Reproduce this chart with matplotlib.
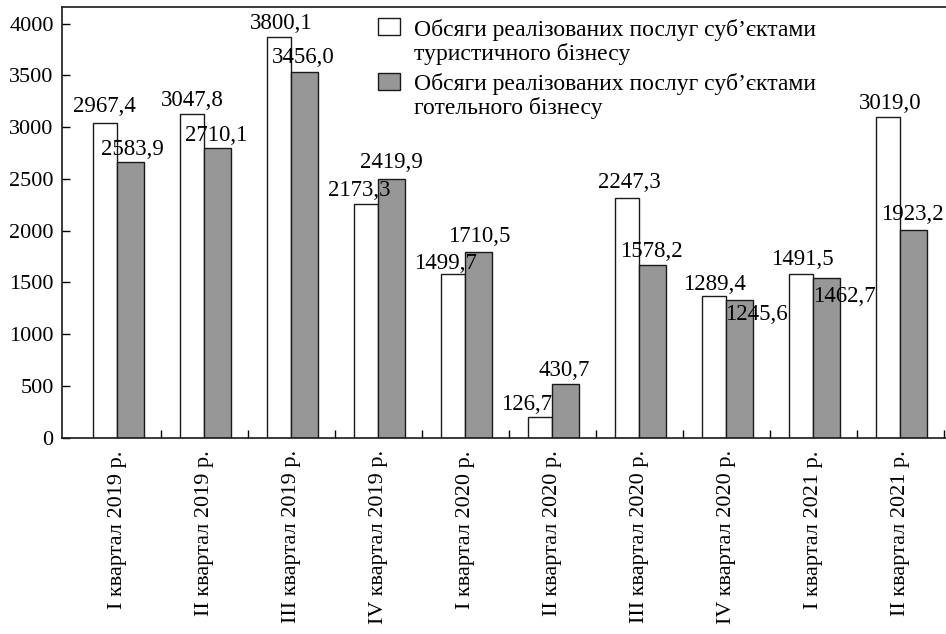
import matplotlib
matplotlib.use("Agg")
import matplotlib.pyplot as plt
from matplotlib.patches import Rectangle
import numpy as np

plt.rcParams['font.family'] = ['Liberation Serif', 'DejaVu Serif']

# quarters on the x axis
quarters = [
    "I квартал 2019 р.", "II квартал 2019 р.", "III квартал 2019 р.",
    "IV квартал 2019 р.", "I квартал 2020 р.", "II квартал 2020 р.",
    "III квартал 2020 р.", "IV квартал 2020 р.", "I квартал 2021 р.",
    "II квартал 2021 р.",
]

# values printed above the bars
tour_values = [2967.4, 3047.8, 3800.1, 2173.3, 1499.7, 126.7, 2247.3, 1289.4, 1491.5, 3019.0]
hotel_values = [2583.9, 2710.1, 3456.0, 2419.9, 1710.5, 430.7, 1578.2, 1245.6, 1462.7, 1923.2]

# bar heights as drawn in the source (they sit a little above the printed values)
tour_bars = [3038, 3128, 3874, 2255, 1579, 203, 2319, 1372, 1582, 3101]
hotel_bars = [2664, 2796, 3536, 2500, 1791, 516, 1669, 1330, 1543, 2007]

tour_name = ["Обсяги реалізованих послуг суб’єктами", "туристичного бізнесу"]
hotel_name = ["Обсяги реалізованих послуг суб’єктами", "готельного бізнесу"]

# label offsets in pixels (dx, dy) relative to bar top centre
tour_offsets = [(-1, 11), (0, 8), (2, 8), (-7, 8), (-8, 5), (-14, 7), (2, 10), (0, 6), (1, 9), (2, 8)]
hotel_offsets = [(2, 7), (-1, 7), (-1, 9), (0, 11), (1, 10), (-1, 8), (-1, 8), (17, -20), (18, -24), (-1, 10)]

GRAY = '#979797'
EDGE = '#1a1a1a'
fs = 16.5
W, H = 946, 634

fig = plt.figure(figsize=(9.46, 6.34), dpi=100)
ax = fig.add_axes([62 / W, 1 - 437.7 / H, 1 - 62 / W, (437.7 - 7) / H])

x = np.arange(len(quarters))
w_tour = 0.28
w_hotel = 0.303
ax.bar(x, tour_bars, width=-w_tour, align='edge', color='white',
       edgecolor=EDGE, linewidth=1.0)
ax.bar(x, hotel_bars, width=w_hotel, align='edge', color=GRAY,
       edgecolor=EDGE, linewidth=1.0)

for i in range(len(x)):
    ax.annotate(f"{tour_values[i]:.1f}".replace('.', ','),
                xy=(x[i] - w_tour / 2, tour_bars[i]),
                xytext=tour_offsets[i], textcoords='offset pixels',
                ha='center', va='baseline', fontsize=fs)
    ax.annotate(f"{hotel_values[i]:.1f}".replace('.', ','),
                xy=(x[i] + w_hotel / 2, hotel_bars[i]),
                xytext=hotel_offsets[i], textcoords='offset pixels',
                ha='center', va='baseline', fontsize=fs)

ax.set_xlim(-0.636, 9.525)
ax.set_ylim(0, 4161)
ax.set_yticks(np.arange(0, 4001, 500))
ax.tick_params(axis='y', direction='in', length=6, width=1, labelsize=16, pad=6)

# group separators as major ticks, names as minor ticks
ax.set_xticks(x + 0.505)
ax.set_xticklabels([])
ax.set_xticks(x, minor=True)
ax.set_xticklabels(quarters, minor=True, rotation=90, fontsize=16)
ax.tick_params(axis='x', which='major', direction='in', length=6, width=1)
ax.tick_params(axis='x', which='minor', length=0, pad=9)

for s in ['left', 'bottom', 'top']:
    ax.spines[s].set_linewidth(1.2)
    ax.spines[s].set_color(EDGE)
ax.spines['right'].set_visible(False)

# legend drawn by hand so the swatch lines up with the first text line
lfs = 17
for colour, lines, top, base in [('white', tour_name, 18, 36), (GRAY, hotel_name, 73, 90)]:
    fig.patches.append(Rectangle((378 / W, 1 - (top + 17) / H), 22 / W, 17 / H,
                                 transform=fig.transFigure, facecolor=colour,
                                 edgecolor=EDGE, linewidth=1.0))
    fig.text(414 / W, 1 - base / H, lines[0], fontsize=lfs, va='baseline')
    fig.text(414 / W, 1 - (base + 24) / H, lines[1], fontsize=lfs, va='baseline')

fig.savefig("out.png", dpi=100)
